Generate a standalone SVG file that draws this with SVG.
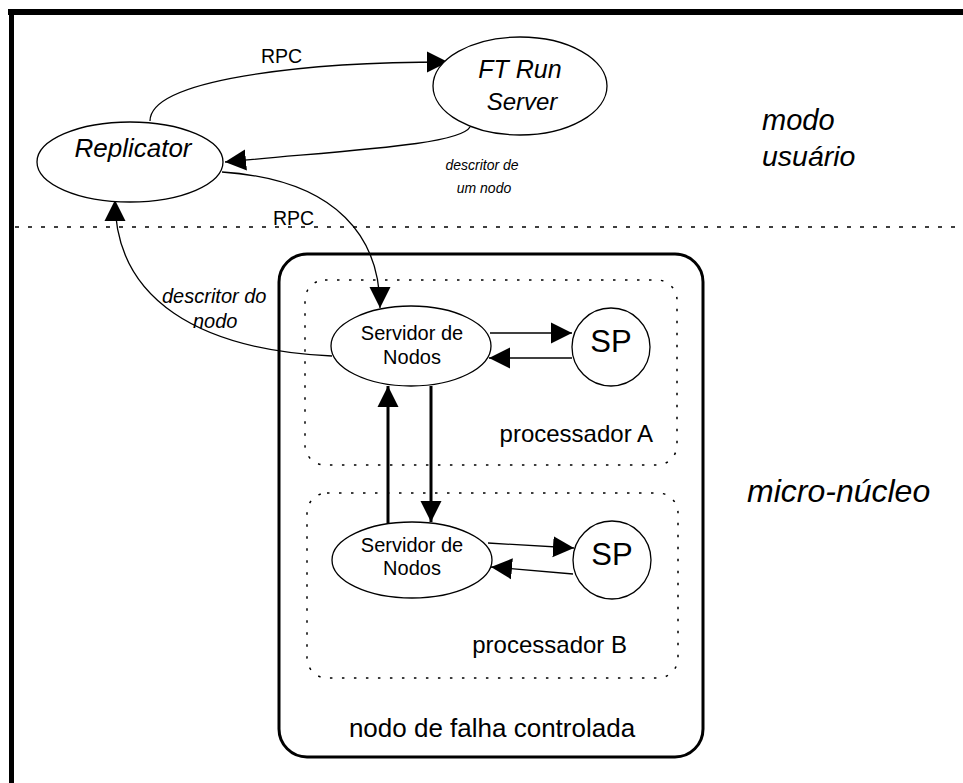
<svg xmlns="http://www.w3.org/2000/svg" width="963" height="783" viewBox="0 0 963 783">
<style>
  .t { font-family: "Liberation Sans", Arial, sans-serif; fill: #000; }
  .i { font-style: italic; }
  .shape { fill: #fff; stroke: #000; stroke-width: 1.3; }
  .thin { fill: none; stroke: #000; stroke-width: 1.3; }
  .thick { fill: none; stroke: #000; stroke-width: 3; }
  .dots { fill: none; stroke: #000; stroke-width: 1.5; stroke-dasharray: 2.5 9.5; }
</style>
<defs>
  <marker id="ah" viewBox="0 0 20 20" refX="20" refY="10" markerWidth="21" markerHeight="22" markerUnits="userSpaceOnUse" orient="auto">
    <path d="M0,0 L20,10 L0,20 z" fill="#000"/>
  </marker>
</defs>
<rect width="963" height="783" fill="#fff"/>
<g id="frame">
  <line x1="8" y1="12" x2="963" y2="12" stroke="#000" stroke-width="6"/>
  <line x1="11.5" y1="9" x2="11.5" y2="783" stroke="#000" stroke-width="5"/>
  <line x1="15" y1="227" x2="963" y2="227" stroke="#000" stroke-width="1.5" stroke-dasharray="4 9"/>
  <text class="t i" x="762" y="130" font-size="29">modo</text>
  <text class="t i" x="762" y="166" font-size="28.5">usuário</text>
  <text class="t i" x="747" y="502" font-size="32">micro-núcleo</text>
</g>
<g id="nodo-falha">
  <rect x="279" y="254" width="424" height="503" rx="28" fill="none" stroke="#000" stroke-width="3"/>
  <text class="t" x="492" y="737" font-size="26" text-anchor="middle">nodo de falha controlada</text>
</g>
<g id="processador-A">
  <rect x="305" y="280" width="372" height="185" rx="20" class="dots"/>
  <text class="t" x="653" y="442" font-size="24" text-anchor="end">processador A</text>
</g>
<g id="processador-B">
  <rect x="307" y="493" width="371" height="185" rx="20" class="dots"/>
  <text class="t" x="627" y="653" font-size="24" text-anchor="end">processador B</text>
</g>
<g id="connectors">
  <path class="thin" d="M150,121 C150,80 300,62 448,62" marker-end="url(#ah)"/>
  <path class="thin" d="M470,127 C460,145 350,150 225,162" marker-end="url(#ah)"/>
  <path class="thin" d="M222,172 C340,180 380,240 380,308" marker-end="url(#ah)"/>
  <path class="thin" d="M332,356 C200,350 115,300 115,200" marker-end="url(#ah)"/>
  <line class="thin" x1="490" y1="333" x2="572" y2="333" marker-end="url(#ah)"/>
  <line class="thin" x1="572" y1="358" x2="489" y2="358" marker-end="url(#ah)"/>
  <line class="thick" x1="388" y1="523" x2="388" y2="386" marker-end="url(#ah)"/>
  <line class="thick" x1="431" y1="386" x2="431" y2="522" marker-end="url(#ah)"/>
  <line class="thin" x1="488" y1="543" x2="574" y2="548" marker-end="url(#ah)"/>
  <line class="thin" x1="573" y1="574" x2="491" y2="567" marker-end="url(#ah)"/>
  <text class="t" x="261" y="63" font-size="19.5">RPC</text>
  <text class="t" x="273" y="225" font-size="19.5">RPC</text>
  <text class="t i" x="482" y="170" font-size="14" text-anchor="middle">descritor de</text>
  <text class="t i" x="484" y="193" font-size="14" text-anchor="middle">um nodo</text>
  <text class="t i" x="162" y="303" font-size="20">descritor do</text>
  <text class="t i" x="193" y="328" font-size="20">nodo</text>
</g>
<g id="replicator">
  <ellipse cx="130" cy="162" rx="93" ry="40" class="shape"/>
  <text class="t i" x="133" y="157" font-size="26" text-anchor="middle">Replicator</text>
</g>
<g id="ft-run-server">
  <ellipse cx="520" cy="86" rx="87" ry="49" class="shape"/>
  <text class="t i" x="520" y="78" font-size="25" text-anchor="middle">FT Run</text>
  <text class="t i" x="522" y="110" font-size="24" text-anchor="middle">Server</text>
</g>
<g id="servidor-A">
  <ellipse cx="411" cy="346" rx="80" ry="40" class="shape"/>
  <text class="t" x="412" y="340" font-size="20" text-anchor="middle">Servidor de</text>
  <text class="t" x="412" y="364" font-size="20" text-anchor="middle">Nodos</text>
</g>
<g id="sp-A">
  <circle cx="611" cy="347" r="39" class="shape"/>
  <text class="t" x="611" y="352" font-size="31" text-anchor="middle">SP</text>
</g>
<g id="servidor-B">
  <ellipse cx="412" cy="560" rx="80" ry="38" class="shape"/>
  <text class="t" x="412" y="552" font-size="20" text-anchor="middle">Servidor de</text>
  <text class="t" x="412" y="575" font-size="20" text-anchor="middle">Nodos</text>
</g>
<g id="sp-B">
  <circle cx="612" cy="560" r="39" class="shape"/>
  <text class="t" x="612" y="565" font-size="31" text-anchor="middle">SP</text>
</g>
</svg>
